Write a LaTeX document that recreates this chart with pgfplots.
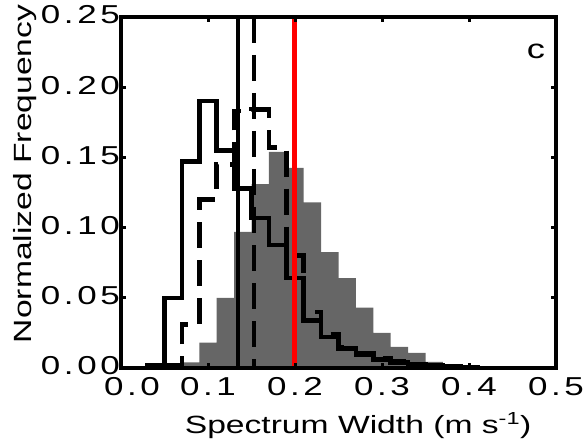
\documentclass[border=0pt]{standalone}
\usepackage{fontspec}
\setmainfont{Liberation Sans}[FakeStretch=1.35]
\usepackage{pgfplots}
\pgfplotsset{compat=1.18}
\definecolor{barg}{RGB}{102,102,102}
\newcommand{\tickfont}{\fontsize{26}{31}\selectfont\addfontfeatures{LetterSpace=14}}
\newcommand{\labfont}{\fontsize{25}{30}\selectfont}
\begin{document}
\begin{tikzpicture}
\begin{axis}[
  at={(121bp,74bp)}, anchor=south west,
  scale only axis, width=435bp, height=351bp,
  xmin=0, xmax=0.5, ymin=0, ymax=0.25,
  xtick={0,0.1,0.2,0.3,0.4,0.5},
  xticklabels={\hspace*{22bp}0.0,0.1,0.2,0.3,0.4,0.5},
  ytick={0,0.05,0.1,0.15,0.2,0.25},
  yticklabels={0.00,0.05,0.10,0.15,0.20,0.25},
  tick align=inside, major tick length=5bp,
  axis line style={line width=4bp},
  tick style={line width=3bp, black},
  ticklabel style={font=\tickfont},
  yticklabel style={inner xsep=1bp, yshift=2bp},
  xticklabel style={yshift=-6bp},
  axis on top=true,
  xlabel={Spectrum Width (m s\textsuperscript{-1})},
  ylabel={Normalized Frequency},
  label style={font=\labfont},
  xlabel style={at={(axis description cs:0.545,-0.163)}, anchor=center},
  ylabel style={at={(axis description cs:-0.221,0.553)}, anchor=center},
]
% gray filled histogram (bin left edges)
\addplot[const plot, fill=barg, draw=none] coordinates {
 (0.03,0.001) (0.05,0.003) (0.07,0.004) (0.09,0.018) (0.11,0.050)
 (0.13,0.097) (0.15,0.131) (0.17,0.154) (0.19,0.1425) (0.21,0.118)
 (0.23,0.0826) (0.25,0.064) (0.27,0.043) (0.29,0.025) (0.31,0.015)
 (0.33,0.0107) (0.35,0.0043) (0.37,0.002) (0.39,0.001) (0.41,0.0005)
 (0.43,0.0005)} \closedcycle;
% solid outline histogram
\addplot[const plot, black, line width=4.5bp] coordinates {
 (0.01,0) (0.03,0.002) (0.05,0.050) (0.07,0.147) (0.09,0.190)
 (0.11,0.155) (0.13,0.128) (0.15,0.107) (0.17,0.0876) (0.19,0.064)
 (0.21,0.034) (0.23,0.022) (0.25,0.014) (0.27,0.0095) (0.29,0.006)
 (0.31,0.004) (0.33,0.003) (0.35,0.002) (0.37,0.001) (0.39,0.0005)
 (0.41,0) (0.45,0)};
% dashed outline histogram
\addplot[const plot, black, line width=4.5bp, dash pattern=on 26bp off 12bp] coordinates {
 (0.01,0) (0.03,0.0) (0.05,0.002) (0.07,0.031) (0.09,0.120)
 (0.11,0.145) (0.13,0.183) (0.15,0.184) (0.17,0.157) (0.19,0.080)
 (0.21,0.040) (0.23,0.024) (0.25,0.015) (0.27,0.0105) (0.29,0.007)
 (0.31,0.005) (0.33,0.003) (0.35,0.002) (0.37,0.001) (0.39,0.0005)
 (0.41,0) (0.45,0)};
% vertical lines
\addplot[black, line width=4.5bp] coordinates {(0.1345,0) (0.1345,0.25)};
\addplot[black, line width=4.5bp, dash pattern=on 26bp off 12bp] coordinates {(0.153,0.25) (0.153,0)};
\addplot[red, line width=5bp] coordinates {(0.199,0) (0.199,0.25)};
\node[font=\fontsize{27}{32}\selectfont] at (axis description cs:0.954,0.903) {c};
\end{axis}
\pgfresetboundingbox
\useasboundingbox (0,0) rectangle (584bp,442bp);
\end{tikzpicture}
\end{document}
